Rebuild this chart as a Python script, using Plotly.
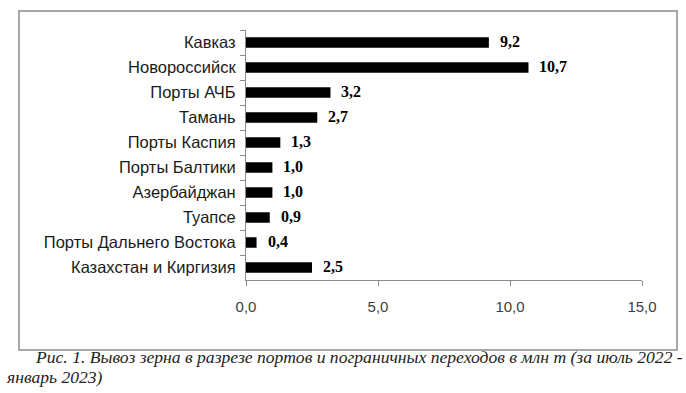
import plotly.graph_objects as go

categories = ["Кавказ", "Новороссийск", "Порты АЧБ", "Тамань", "Порты Каспия",
              "Порты Балтики", "Азербайджан", "Туапсе", "Порты Дальнего Востока",
              "Казахстан и Киргизия"]
values = [9.2, 10.7, 3.2, 2.7, 1.3, 1.0, 1.0, 0.9, 0.4, 2.5]
x_tick_vals = [0, 5, 10, 15]
x_tick_text = ["0,0", "5,0", "10,0", "15,0"]
caption_line1 = "Рис. 1. Вывоз зерна в разрезе портов и пограничных переходов в млн т (за июль 2022 -"
caption_line2 = "январь 2023)"

W, H = 686, 393
L, R, T, B = 246, 642, 30, 280  # plot area in px


def px_x(p):
    return (p - L) / (R - L)


def px_y(p):
    return (B - p) / (B - T)


labels = [f"{v:.1f}".replace(".", ",") for v in values]

fig = go.Figure(go.Bar(
    x=values, y=categories, orientation="h",
    marker=dict(color="black", line=dict(width=0)),
    hoverinfo="skip",
))

for c, v, t in zip(categories, values, labels):
    fig.add_annotation(x=v, y=c, text=f"<b>{t}</b>", showarrow=False, xanchor="left",
                       xshift=9, yshift=1,
                       font=dict(family="Liberation Serif", size=16, color="black"))

fig.add_shape(type="rect", xref="paper", yref="paper",
              x0=px_x(19), x1=px_x(677), y0=px_y(350), y1=px_y(11),
              line=dict(color="#8a8a8a", width=1.5), layer="below")

fig.add_annotation(xref="paper", yref="paper", x=px_x(33), y=px_y(357),
                   xanchor="left", yanchor="middle", showarrow=False,
                   text=f"<i>{caption_line1}</i>",
                   font=dict(family="Liberation Serif", size=17.6, color="#222"))
fig.add_annotation(xref="paper", yref="paper", x=px_x(4), y=px_y(377),
                   xanchor="left", yanchor="middle", showarrow=False,
                   text=f"<i>{caption_line2}</i>",
                   font=dict(family="Liberation Serif", size=17.6, color="#222"))

fig.update_layout(
    width=W, height=H,
    margin=dict(l=L, r=W - R, t=T, b=H - B, autoexpand=False),
    paper_bgcolor="white", plot_bgcolor="white",
    bargap=0.58,
    showlegend=False,
    xaxis=dict(range=[0, 15], tickvals=x_tick_vals, ticktext=x_tick_text,
               showgrid=False, zeroline=False, showline=True,
               linecolor="#8c8c8c", linewidth=1,
               ticks="outside", ticklen=5, tickcolor="#8c8c8c",
               tickfont=dict(family="Liberation Sans", size=15, color="#404040"),
               ticklabelstandoff=8,
               fixedrange=True),
    yaxis=dict(autorange="reversed", showgrid=False, zeroline=False,
               showline=True, linecolor="#8c8c8c", linewidth=1,
               ticks="outside", ticklen=5, tickcolor="#8c8c8c",
               tickson="boundaries",
               tickfont=dict(family="Liberation Sans", size=16.5, color="#1a1a1a"),
               ticklabelstandoff=6,
               fixedrange=True),
)

fig.write_html("out.html", config={"displayModeBar": False},
               post_script="document.body.style.margin='0';document.body.style.overflow='hidden';")
